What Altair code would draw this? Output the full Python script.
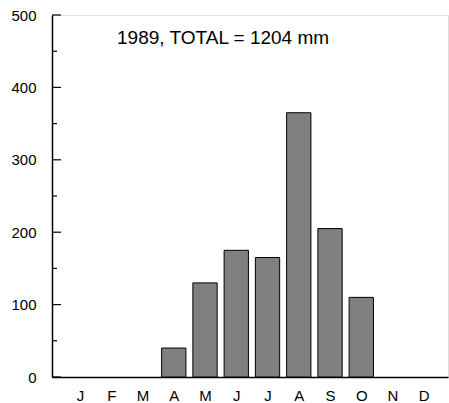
import altair as alt
import pandas as pd

months = ["J", "F", "M", "A", "M", "J", "J", "A", "S", "O", "N", "D"]
month_num = list(range(1, 13))
rain_mm = [0, 0, 0, 40, 130, 175, 165, 365, 205, 110, 0, 0]
major_ticks = [0, 100, 200, 300, 400, 500]
minor_ticks = [50, 150, 250, 350, 450]
title_text = "1989, TOTAL = 1204 mm"

FONT = "Liberation Sans"

df = pd.DataFrame({"m": month_num, "label": months, "rain": rain_mm})
df = df[df["rain"] > 0]

xscale = alt.Scale(domain=[0.264, 12.615], nice=False, zero=False)
yscale = alt.Scale(domain=[0, 500], nice=False)

label_expr = "[" + ",".join("'%s'" % m for m in months) + "][datum.value - 1]"

bars = alt.Chart(df).mark_bar(
    size=24.3, color="#808080", stroke="black", strokeWidth=1
).encode(
    x=alt.X("m:Q", scale=xscale, title=None,
            axis=alt.Axis(values=month_num, labelExpr=label_expr, ticks=False,
                          tickSize=0, grid=False, domainColor="black", domainWidth=1.5,
                          labelFont=FONT, labelFontSize=15, labelColor="black",
                          labelPadding=11, labelFlush=False)),
    y=alt.Y("rain:Q", scale=yscale, title=None,
            axis=alt.Axis(values=major_ticks, ticks=False, tickSize=0, grid=False,
                          domainColor="black", domainWidth=1.5,
                          labelFont=FONT, labelFontSize=15, labelColor="black",
                          labelPadding=16)),
)

major = alt.Chart(pd.DataFrame({"v": major_ticks})).mark_rule(
    color="black", strokeWidth=1.2
).encode(y=alt.Y("v:Q", scale=yscale), x=alt.value(0), x2=alt.value(9))

minor = alt.Chart(pd.DataFrame({"v": minor_ticks})).mark_rule(
    color="black", strokeWidth=1.2
).encode(y=alt.Y("v:Q", scale=yscale), x=alt.value(0), x2=alt.value(5))

chart = alt.layer(bars, major, minor).properties(
    width=396,
    height=362,
    autosize=alt.AutoSizeParams(type="none"),
    padding={"left": 52, "top": 15, "right": 1, "bottom": 26},
    title=alt.TitleParams(title_text, anchor="start", frame="group", dx=65,
                          offset=-30, dy=25, baseline="alphabetic", font=FONT,
                          fontSize=19, fontWeight="normal", color="black"),
).configure_view(stroke=None).configure(background="white")

chart.save("out.html", embed_options={"renderer": "svg", "actions": False})
